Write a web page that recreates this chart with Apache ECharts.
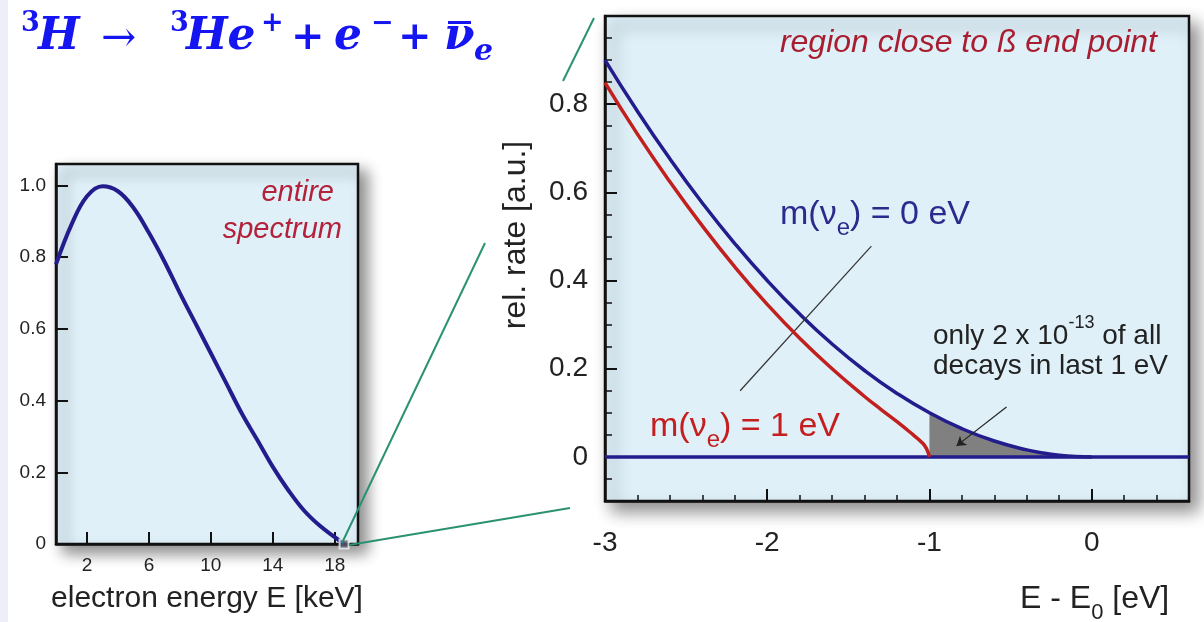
<!DOCTYPE html>
<html><head><meta charset="utf-8">
<script src="https://cdn.jsdelivr.net/npm/echarts@6/dist/echarts.min.js"></script>
<style>html,body{margin:0;padding:0;background:#fff}#c{width:1204px;height:622px}</style>
</head><body><div id="c"></div>
<script>
// ---- data ----
// entire spectrum (left): electron energy [keV] vs relative rate
const spectrumE = [0, 1, 2, 3, 4, 5, 6, 7, 8, 9, 10, 11, 12, 13, 14, 15, 16, 17, 18, 18.6];
const spectrumRate = [0.78, 0.891, 0.97, 0.998, 0.984, 0.938, 0.868, 0.788, 0.70, 0.616, 0.532, 0.448, 0.364, 0.29, 0.215, 0.15, 0.094, 0.052, 0.019, 0];
const endpointMark = [18.6, 0];
const leftXTicks = [2, 6, 10, 14, 18];
const leftYTicks = [0, 0.2, 0.4, 0.6, 0.8, 1.0];

// region close to end point (right): E - E0 [eV] vs rel. rate
const m0E = [-3, -2.8, -2.6, -2.4, -2.2, -2.0, -1.8, -1.6, -1.4, -1.2, -1.0, -0.8, -0.6, -0.4, -0.3, -0.2, -0.1, 0];
const m0Rate = [0.9, 0.784, 0.676, 0.576, 0.484, 0.4, 0.324, 0.256, 0.196, 0.144, 0.1, 0.064, 0.036, 0.016, 0.009, 0.004, 0.001, 0];
const m1E = [-3, -2.8, -2.6, -2.4, -2.2, -2.0, -1.8, -1.6, -1.4, -1.3, -1.2, -1.1, -1.05, -1.02, -1.0];
const m1Rate = [0.849, 0.732, 0.624, 0.524, 0.431, 0.346, 0.269, 0.2, 0.137, 0.108, 0.08, 0.05, 0.034, 0.02, 0];
const shadeFrom = -1.0;
const baseline = [[-3, 0], [0.6, 0]];
const rightXLabels = [-3, -2, -1, 0];
const rightXMajor = [-2, -1, 0];
const rightYLabels = [0, 0.2, 0.4, 0.6, 0.8];

const zip = (a, b) => a.map((v, i) => [v, b[i]]);
const shadeData = zip(m0E, m0Rate).filter(p => p[0] >= shadeFrom);

const NAVY = '#231c8c', RED = '#c21f1f', FONT = 'Liberation Sans, Arial, sans-serif';
const SERIF = 'DejaVu Serif, Liberation Serif, serif';
const BLUE = '#1515f2';
const fmt = v => v === 0 ? '0' : v.toFixed(1);

const chart = echarts.init(document.getElementById('c'), null, {renderer: 'canvas'});
const axisLine = {show: true, onZero: false, lineStyle: {color: '#111', width: 2.5}};
const hiddenLine = {show: false, onZero: false};

// formula pieces: [text, x(left), y(middle), font]
const fMain = 'italic bold 44px ' + SERIF, fSup = 'bold 27px ' + SERIF, fOp = 'bold 40px ' + SERIF;
const formula = [
  ['3', 21, 24, fSup], ['H', 38, 38, fMain], ['→', 101, 40, '42px ' + SERIF],
  ['3', 170, 24, fSup], ['He', 186, 38, fMain], ['+', 261, 24, fSup],
  ['+', 291, 39, fOp], ['e', 334, 38, fMain], ['−', 371, 24, fSup],
  ['+', 398, 39, fOp], ['ν', 444, 38, fMain], ['e', 474, 52, 'italic bold 30px ' + SERIF]
];
const formulaGraphics = formula.map(([t, x, y, f]) => ({type: 'text', z: 60, silent: true,
  style: {text: t, x, y, font: f, fill: BLUE, align: 'left', verticalAlign: 'middle'}}));

chart.setOption({
  backgroundColor: '#ffffff',
  animation: false,
  grid: [
    {left: 56, top: 164, width: 302, height: 380, show: true, backgroundColor: '#dff0f8', borderColor: '#111', borderWidth: 2.5,
     shadowBlur: 14, shadowOffsetX: 8, shadowOffsetY: 8, shadowColor: 'rgba(0,0,0,0.45)'},
    {left: 605, top: 16, width: 584, height: 485, show: true, backgroundColor: '#dff0f8', borderColor: '#111', borderWidth: 2.5,
     shadowBlur: 16, shadowOffsetX: 8, shadowOffsetY: 9, shadowColor: 'rgba(0,0,0,0.45)'}
  ],
  xAxis: [
    {type: 'value', gridIndex: 0, position: 'bottom', min: 0, max: 19.5, axisLine,
     axisTick: {inside: true, length: 12, customValues: leftXTicks, lineStyle: {color: '#111', width: 2}},
     axisLabel: {customValues: leftXTicks, fontSize: 19, color: '#222', margin: 12, fontFamily: FONT},
     splitLine: {show: false},
     name: 'electron energy E [keV]', nameLocation: 'middle', nameGap: 40,
     nameTextStyle: {fontSize: 30, color: '#222', fontFamily: FONT}},
    {type: 'value', gridIndex: 1, position: 'bottom', min: -3, max: 0.6, axisLine,
     axisTick: {inside: true, length: 12, customValues: rightXMajor, lineStyle: {color: '#111', width: 2}},
     axisLabel: {customValues: rightXLabels, fontSize: 28, color: '#222', margin: 28, fontFamily: FONT},
     splitLine: {show: false}},
    {type: 'value', gridIndex: 1, position: 'bottom', min: -3, max: 0.6, interval: 0.2,
     axisLine: hiddenLine, axisLabel: {show: false}, splitLine: {show: false},
     axisTick: {inside: true, length: 6, lineStyle: {color: '#111', width: 1.5}}}
  ],
  yAxis: [
    {type: 'value', gridIndex: 0, position: 'left', min: 0, max: 1.06, axisLine,
     axisTick: {inside: true, length: 12, customValues: leftYTicks, lineStyle: {color: '#111', width: 2}},
     axisLabel: {customValues: leftYTicks, formatter: fmt, fontSize: 19, color: '#222', margin: 10, fontFamily: FONT},
     splitLine: {show: false}},
    {type: 'value', gridIndex: 1, position: 'left', min: -0.1, max: 1.0, axisLine,
     axisTick: {inside: true, length: 12, customValues: rightYLabels, lineStyle: {color: '#111', width: 2}},
     axisLabel: {customValues: rightYLabels, formatter: fmt, fontSize: 28, color: '#222', margin: 17, fontFamily: FONT},
     splitLine: {show: false}},
    {type: 'value', gridIndex: 1, position: 'left', min: -0.1, max: 1.0, interval: 0.05,
     axisLine: hiddenLine, axisLabel: {show: false}, splitLine: {show: false},
     axisTick: {inside: true, length: 7, lineStyle: {color: '#111', width: 1.5}}}
  ],
  series: [
    {type: 'line', xAxisIndex: 0, yAxisIndex: 0, data: zip(spectrumE, spectrumRate), smooth: 0.4, showSymbol: false,
     lineStyle: {color: NAVY, width: 4}, z: 3},
    {type: 'scatter', xAxisIndex: 0, yAxisIndex: 0, data: [endpointMark], symbol: 'rect', symbolSize: 9,
     itemStyle: {color: '#5b5b74', borderColor: '#f4f4f4', borderWidth: 2}, z: 5},
    {type: 'line', xAxisIndex: 1, yAxisIndex: 1, data: shadeData, smooth: true, showSymbol: false,
     lineStyle: {width: 0}, areaStyle: {color: '#808080', opacity: 1}, z: 2},
    {type: 'line', xAxisIndex: 1, yAxisIndex: 1, data: baseline, showSymbol: false,
     lineStyle: {color: NAVY, width: 3.5}, z: 3,
     markLine: {silent: true, symbol: ['none', 'none'], animation: false, label: {show: false},
       data: [
         [{coord: [-1.358, 0.478], lineStyle: {color: '#333', width: 1.2, type: 'solid'}}, {coord: [-2.167, 0.15]}],
         [{coord: [-0.525, 0.113], symbol: 'none', lineStyle: {color: '#222', width: 1.2, type: 'solid'}}, {coord: [-0.833, 0.025], symbol: 'arrow', symbolSize: 9}]
       ]}},
    {type: 'line', xAxisIndex: 1, yAxisIndex: 1, data: zip(m0E, m0Rate), smooth: true, showSymbol: false,
     lineStyle: {color: NAVY, width: 3.5}, z: 4},
    {type: 'line', xAxisIndex: 1, yAxisIndex: 1, data: zip(m1E, m1Rate), smooth: true, showSymbol: false,
     lineStyle: {color: RED, width: 3.5}, z: 5}
  ],
  graphic: [
    {type: 'rect', shape: {x: 0, y: 0, width: 8, height: 622}, style: {fill: '#eeeef8'}, z: -10, silent: true},
    // zoom connector lines
    {type: 'line', shape: {x1: 342, y1: 543, x2: 485, y2: 243}, style: {stroke: '#2a9272', lineWidth: 2}, z: 50},
    {type: 'line', shape: {x1: 563, y1: 81, x2: 594, y2: 18}, style: {stroke: '#2a9272', lineWidth: 2}, z: 50},
    {type: 'line', shape: {x1: 349, y1: 545, x2: 570, y2: 508}, style: {stroke: '#2a9272', lineWidth: 2}, z: 50},
    ...formulaGraphics,
    {type: 'rect', z: 60, silent: true, shape: {x: 448, y: 21, width: 23, height: 3}, style: {fill: BLUE}},
    // left panel title
    {type: 'text', z: 60, style: {x: 334, y: 193, text: 'entire', align: 'right', verticalAlign: 'middle', fill: '#b3213a', font: 'italic 29px ' + FONT}},
    {type: 'text', z: 60, style: {x: 342, y: 230, text: 'spectrum', align: 'right', verticalAlign: 'middle', fill: '#b3213a', font: 'italic 29px ' + FONT}},
    // right panel texts
    {type: 'text', z: 60, style: {x: 1157, y: 43, text: 'region close to ß end point', align: 'right', verticalAlign: 'middle', fill: '#a81e30', font: 'italic 32px ' + FONT}},
    {type: 'text', z: 60, x: 516, y: 235, rotation: Math.PI / 2,
     style: {x: 0, y: 0, text: 'rel. rate [a.u.]', align: 'center', verticalAlign: 'middle', fill: '#222', font: '32px ' + FONT}},
    {type: 'text', z: 60, left: 780, top: 198, style: {text: '{a|m(ν}{b|e}{a|) = 0 eV}', rich: {
      a: {fontSize: 34, fontFamily: FONT, fill: '#2d2a8e', lineHeight: 40, verticalAlign: 'bottom'},
      b: {fontSize: 24, fontFamily: FONT, fill: '#2d2a8e', lineHeight: 24, verticalAlign: 'bottom', padding: [0, 0, -8, 0]}}}},
    {type: 'text', z: 60, left: 650, top: 410, style: {text: '{a|m(ν}{b|e}{a|) = 1 eV}', rich: {
      a: {fontSize: 34, fontFamily: FONT, fill: '#c41e1e', lineHeight: 40, verticalAlign: 'bottom'},
      b: {fontSize: 24, fontFamily: FONT, fill: '#c41e1e', lineHeight: 24, verticalAlign: 'bottom', padding: [0, 0, -8, 0]}}}},
    {type: 'text', z: 60, left: 933, top: 314, style: {text: '{a|only 2 x 10}{s|-13}{a| of all}', rich: {
      a: {fontSize: 28, fontFamily: FONT, fill: '#222', lineHeight: 36, verticalAlign: 'bottom'},
      s: {fontSize: 18, fontFamily: FONT, fill: '#222', lineHeight: 36, verticalAlign: 'top'}}}},
    {type: 'text', z: 60, style: {x: 933, y: 366, text: 'decays in last 1 eV', align: 'left', verticalAlign: 'middle', fill: '#222', font: '28px ' + FONT}},
    {type: 'text', z: 60, left: 1020, top: 583, style: {text: '{a|E - E}{b|0}{a| [eV]}', rich: {
      a: {fontSize: 32, fontFamily: FONT, fill: '#222', lineHeight: 36, verticalAlign: 'bottom'},
      b: {fontSize: 22, fontFamily: FONT, fill: '#222', lineHeight: 22, verticalAlign: 'bottom', padding: [0, 0, -9, 0]}}}}
  ]
});
</script></body></html>
